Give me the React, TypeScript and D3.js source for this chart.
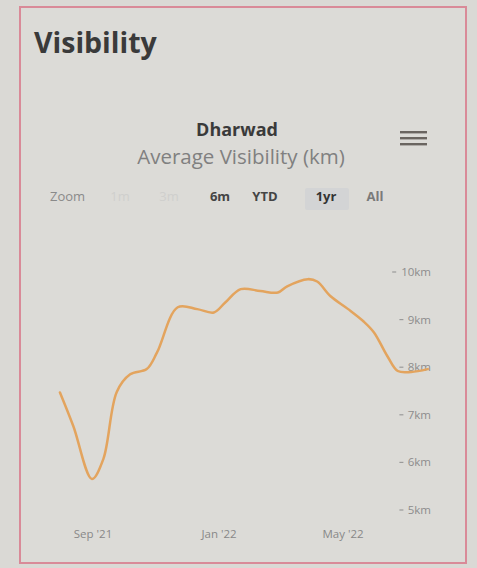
import React from "react";
import * as d3 from "d3";

const dates = [
  "2021-07-31", "2021-08-13", "2021-08-31", "2021-09-11", "2021-09-24", "2021-10-07",
  "2021-10-23", "2021-11-02", "2021-11-22", "2021-12-11", "2021-12-27", "2022-01-07",
  "2022-01-22", "2022-02-10", "2022-02-27", "2022-03-08", "2022-03-28", "2022-04-06",
  "2022-04-19", "2022-05-06", "2022-05-21", "2022-05-31", "2022-06-13", "2022-06-23",
  "2022-07-06", "2022-07-22",
];
const visibility = [
  7.47, 6.76, 5.65, 6.07, 7.48, 7.85,
  7.96, 8.31, 9.26, 9.22, 9.15, 9.36,
  9.64, 9.6, 9.57, 9.7, 9.85, 9.8,
  9.49, 9.22, 8.96, 8.73, 8.23, 7.92,
  7.9, 7.96,
];
const yTicks = [5, 6, 7, 8, 9, 10];
const xTickDates = ["2021-09-01", "2022-01-01", "2022-05-01"];
const xTickLabels = ["Sep '21", "Jan '22", "May '22"];
const zoomButtons = ["1m", "3m", "6m", "YTD", "1yr", "All"];
const zoomEnabled = [false, false, true, true, true, true];
const selectedZoom = "1yr";

export default function App() {
  const W = 477, H = 568;
  const parse = d3.timeParse("%Y-%m-%d");
  const data = dates.map((d, i) => ({ t: parse(d) as Date, v: visibility[i] }));
  const x = d3
    .scaleTime()
    .domain([parse("2021-09-01") as Date, parse("2022-05-01") as Date])
    .range([93, 343]);
  const y = d3.scaleLinear().domain([5, 10]).range([510, 272]);
  const line = d3
    .line<{ t: Date; v: number }>()
    .x((d) => x(d.t))
    .y((d) => y(d.v))
    .curve(d3.curveCatmullRom.alpha(0.5));

  const btnX = [120, 169, 220, 265, 326, 375];
  const font = "'Open Sans', 'Liberation Sans', Arial, sans-serif";

  return (
    <svg
      width={W}
      height={H}
      style={{ position: "absolute", left: 0, top: 0, background: "#dad9d5" }}
      fontFamily={font}
    >
      <rect x={0} y={0} width={W} height={H} fill="#dad9d5" />
      <rect x={20} y={7} width={446} height={556} fill="#dcdbd7" stroke="#d98a98" strokeWidth={2} />
      <text x={34} y={53} fontSize={28.5} fontWeight="bold" fill="#3a3a3a">Visibility</text>

      <text x={237} y={136} fontSize={18} fontWeight="bold" fill="#3a3a3a" textAnchor="middle">Dharwad</text>
      <text x={241} y={164} fontSize={20.5} fill="#808080" textAnchor="middle">Average Visibility (km)</text>

      {[0, 1, 2].map((i) => (
        <rect key={i} x={400} y={131 + i * 6} width={27} height={2.4} fill="#6a6560" />
      ))}

      <text x={50} y={201} fontSize={13} fill="#8a8a8a">Zoom</text>
      <rect x={305} y={188} width={44} height={22} rx={2} fill="#d3d4d5" />
      {zoomButtons.map((b, i) => (
        <text
          key={b}
          x={btnX[i]}
          y={201}
          fontSize={13}
          textAnchor="middle"
          fontWeight={zoomEnabled[i] ? "bold" : "normal"}
          fill={!zoomEnabled[i] ? "#cfcfcd" : b === selectedZoom ? "#333" : b === "All" ? "#7a7a7a" : "#444"}
        >
          {b}
        </text>
      ))}

      {yTicks.map((t) => {
        const label = `${t}km`;
        const start = 431 - label.length * 7.2;
        return (
          <g key={t}>
            <line x1={start - 10} x2={start - 6} y1={y(t)} y2={y(t)} stroke="#9a9a9a" strokeWidth={1.2} />
            <text x={431} y={y(t) + 4} fontSize={11.5} fill="#8c8c8c" textAnchor="end">
              {label}
            </text>
          </g>
        );
      })}

      {xTickDates.map((d, i) => (
        <text key={d} x={x(parse(d) as Date)} y={538} fontSize={11.5} fill="#888" textAnchor="middle">
          {xTickLabels[i]}
        </text>
      ))}

      <path d={line(data) || ""} fill="none" stroke="#e3a45e" strokeWidth={2.5} strokeLinejoin="round" strokeLinecap="round" />
    </svg>
  );
}
